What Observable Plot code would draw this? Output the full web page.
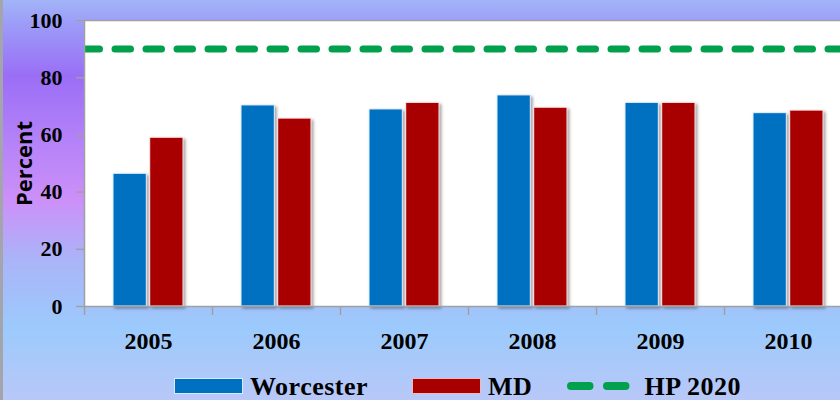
<!DOCTYPE html>
<html>
<head>
<meta charset="utf-8">
<script src="https://cdn.jsdelivr.net/npm/d3@7"></script>
<script src="https://cdn.jsdelivr.net/npm/@observablehq/plot@0.6"></script>
<style>
  html, body { margin: 0; padding: 0; }
  body { width: 840px; height: 400px; overflow: hidden; }
  #page {
    position: relative; width: 840px; height: 400px;
    background: linear-gradient(to bottom,
      #a2b4f8 0%, #9c9cf8 6%, #9a6ef6 19%, #b482f8 35%, #cc90f9 50%,
      #aab4f8 65%, #9ccafc 82%, #b8c8f8 100%);
    box-shadow: inset 3px 0 0 #a4a4ac;
  }
  #chart { height: 360px; }
  #chart svg { display: block; }
  #legend {
    position: relative; height: 40px;
    font-family: "Liberation Serif", "Times New Roman", serif;
    font-weight: bold; font-size: 26px; color: #000;
  }
  #legend .row {
    position: absolute; left: 174px; top: 16px; height: 20px;
    display: flex; align-items: center;
  }
  #legend .item { display: flex; align-items: center; }
  #legend .sw { width: 69px; height: 16px; box-sizing: border-box; margin-right: 7px; }
  #legend .lbl { line-height: 0.72; padding-top: 2px; letter-spacing: 0.5px; }
</style>
</head>
<body>
<div id="page">
  <div id="chart"></div>
  <div id="legend"></div>
</div>
<script>
// ---- data ----
const years = ["2005", "2006", "2007", "2008", "2009", "2010"];
const worcester = [46.4, 70.3, 68.9, 73.8, 71.2, 67.6];
const md = [59.0, 65.7, 71.2, 69.5, 71.2, 68.5];
const hp2020 = 90;
const yTicks = [0, 20, 40, 60, 80, 100];
const seriesNames = ["Worcester", "MD", "HP 2020"];
const seriesColors = ["#0070c0", "#a80000", "#00a04c"];

// ---- table ----
const rows = years.map((year, i) => ({ year, worcester: worcester[i], md: md[i] }));

// ---- layout ----
const left = 84, step = 128, padInner = 0.45;
const bw = step * (1 - padInner);
const gridGray = "#a0a0a0";

const chart = Plot.plot({
  width: 840,
  height: 360,
  marginLeft: left,
  marginRight: 0,
  marginTop: 20,
  marginBottom: 54,
  style: { background: "transparent", color: "#000", fontFamily: "Liberation Serif, Times New Roman, serif", overflow: "visible" },
  x: { domain: years, range: [left, left + step * years.length], paddingInner: padInner, paddingOuter: padInner / 2, axis: null },
  y: { domain: [0, 100], axis: null },
  marks: [
    Plot.frame({ fill: "white", stroke: null }),
    Plot.ruleY([hp2020], { stroke: seriesColors[2], strokeWidth: 7, strokeDasharray: "15.5,15.5", strokeLinecap: "round", clip: "frame" }),
    Plot.barY(rows, { x: "year", y: "worcester", fill: seriesColors[0], insetRight: bw / 2 + 1.5, stroke: "#e8f0ff", strokeWidth: 1 }),
    Plot.barY(rows, { x: "year", y: "md", fill: seriesColors[1], insetLeft: bw / 2 + 1.5, stroke: "#ffe8e8", strokeWidth: 1 }),
    Plot.ruleY([0], { stroke: gridGray, strokeWidth: 1.5 }),
    Plot.ruleY([100], { stroke: gridGray, strokeWidth: 1.5 }),
    Plot.ruleX(years, { x: d => d, dx: -step / 2, y1: 0, y2: 0, insetBottom: -9, stroke: gridGray, strokeWidth: 1.5 }),
    Plot.ruleX([years[0]], { x: d => d, dx: -step / 2, y1: 0, y2: 100, stroke: gridGray, strokeWidth: 1.5 }),
    Plot.axisY({ ticks: yTicks, tickSize: 8, tickPadding: 14, fontSize: 22, fontWeight: "bold", stroke: gridGray, strokeWidth: 1.5, label: null }),
    Plot.axisX({ tickSize: 0, tickPadding: 25, fontSize: 24, fontWeight: "bold", label: null }),
    Plot.text(["Percent"], { frameAnchor: "left", dx: -60, rotate: -90, textAnchor: "middle", lineAnchor: "middle", fontSize: 22, fontWeight: "bold", fontFamily: "Open Sans", fill: "#000" })
  ]
});

chart.querySelectorAll('g[aria-label="bar"]').forEach(g => {
  g.style.filter = "drop-shadow(2px 2px 1.5px rgba(0,0,0,0.35))";
});
document.getElementById("chart").appendChild(chart);

// ---- legend ----
const itemGaps = [44, 38, 0];
const legend = document.getElementById("legend");
const row = document.createElement("div");
row.className = "row";
seriesNames.forEach((name, i) => {
  const item = document.createElement("div");
  item.className = "item";
  item.style.marginRight = itemGaps[i] + "px";
  if (i < 2) {
    const sw = document.createElement("div");
    sw.className = "sw";
    sw.style.background = seriesColors[i];
    sw.style.border = "1px solid " + (i === 0 ? "#d8e8ff" : "#f0b8b8");
    item.appendChild(sw);
  } else {
    const ns = "http://www.w3.org/2000/svg";
    const svg = document.createElementNS(ns, "svg");
    svg.setAttribute("width", "70");
    svg.setAttribute("height", "16");
    svg.style.marginRight = "7px";
    svg.style.overflow = "visible";
    const ln = document.createElementNS(ns, "line");
    ln.setAttribute("x1", "4"); ln.setAttribute("x2", "62");
    ln.setAttribute("y1", "8"); ln.setAttribute("y2", "8");
    ln.setAttribute("stroke", seriesColors[2]);
    ln.setAttribute("stroke-width", "8");
    ln.setAttribute("stroke-linecap", "round");
    ln.setAttribute("stroke-dasharray", "18.5,17.5");
    svg.appendChild(ln);
    item.appendChild(svg);
    item.style.marginLeft = "-3px";
  }
  const lbl = document.createElement("span");
  lbl.className = "lbl";
  lbl.textContent = name;
  item.appendChild(lbl);
  row.appendChild(item);
});
legend.appendChild(row);
</script>
</body>
</html>
